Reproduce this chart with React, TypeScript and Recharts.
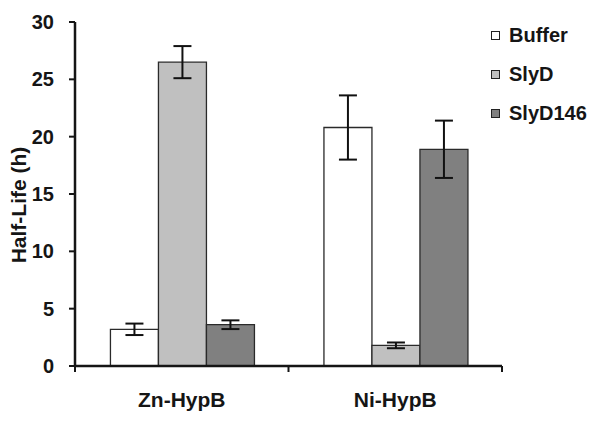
import { BarChart, Bar, XAxis, YAxis, ErrorBar, Legend } from "recharts";

const categories = ["Zn-HypB", "Ni-HypB"];
const bufferValues = [3.2, 20.8];
const bufferErrors = [0.5, 2.8];
const slydValues = [26.5, 1.8];
const slydErrors = [1.4, 0.25];
const slyd146Values = [3.6, 18.9];
const slyd146Errors = [0.38, 2.5];
const yTicks = [0, 5, 10, 15, 20, 25, 30];

const series = [
  { key: "buffer", name: "Buffer", fill: "#ffffff" },
  { key: "slyd", name: "SlyD", fill: "#c0c0c0" },
  { key: "slyd146", name: "SlyD146", fill: "#808080" },
];

const data = categories.map((cat, i) => ({
  cat,
  buffer: bufferValues[i],
  bufferErr: bufferErrors[i],
  slyd: slydValues[i],
  slydErr: slydErrors[i],
  slyd146: slyd146Values[i],
  slyd146Err: slyd146Errors[i],
}));

const W = 604;
const H = 425;
const MARGIN = { top: 22, right: 102, left: 15, bottom: 19 };
const Y_WIDTH = 60;
const FONT = "'Liberation Sans', Arial, sans-serif";
const INK = "#151515";

// half of one category band, for the boundary tick marks
const halfBand = (W - MARGIN.left - MARGIN.right - Y_WIDTH) / categories.length / 2;

function XTick(props: any) {
  const { x, y, payload, index } = props;
  const last = index === categories.length - 1;
  return (
    <g>
      <line x1={x - halfBand} x2={x - halfBand} y1={y} y2={y + 6} stroke={INK} strokeWidth={2} />
      {last && <line x1={x + halfBand} x2={x + halfBand} y1={y} y2={y + 6} stroke={INK} strokeWidth={2} />}
      <text x={x} y={y + 41} textAnchor="middle" fontFamily={FONT} fontWeight="bold" fontSize={21} fill={INK}>
        {payload.value}
      </text>
    </g>
  );
}

function YLabel(props: any) {
  const { viewBox } = props;
  const x = viewBox.x + 11;
  const y = 205;
  return (
    <text
      x={x}
      y={y}
      transform={`rotate(-90 ${x} ${y})`}
      textAnchor="middle"
      fontFamily={FONT}
      fontWeight="bold"
      fontSize={21}
      fill={INK}
    >
      Half-Life (h)
    </text>
  );
}

function LegendBox() {
  return (
    <div style={{ fontFamily: FONT, fontWeight: "bold", fontSize: 20, color: INK }}>
      {series.map((s) => (
        <div key={s.key} style={{ display: "flex", alignItems: "center", height: 39 }}>
          <span
            style={{
              display: "inline-block",
              width: 7,
              height: 7,
              border: "1.5px solid #222",
              background: s.fill,
              marginRight: 9,
            }}
          />
          {s.name}
        </div>
      ))}
    </div>
  );
}

export default function App() {
  return (
    <div style={{ width: W, height: H, background: "#fff" }}>
      <style>{`body{margin:0}`}</style>
      <BarChart width={W} height={H} data={data} margin={MARGIN} barGap={0} barCategoryGap="16.6%">
        <XAxis
          dataKey="cat"
          axisLine={{ stroke: INK, strokeWidth: 2.5 }}
          tickLine={false}
          tickSize={0}
          tickMargin={0}
          height={40}
          tick={<XTick />}
        />
        <YAxis
          domain={[0, 30]}
          ticks={yTicks}
          width={Y_WIDTH}
          axisLine={{ stroke: INK, strokeWidth: 2.5 }}
          tickLine={{ stroke: INK, strokeWidth: 2 }}
          tickSize={6}
          tickMargin={15}
          tick={{ fontFamily: FONT, fontWeight: "bold", fontSize: 20, fill: INK }}
          label={{ content: YLabel }}
        />
        <Legend
          layout="vertical"
          align="center"
          verticalAlign="middle"
          content={<LegendBox />}
          wrapperStyle={{ position: "absolute", left: 491, top: 16, width: 110 }}
        />
        {series.map((s) => (
          <Bar
            key={s.key}
            dataKey={s.key}
            name={s.name}
            fill={s.fill}
            stroke="#2a2a2a"
            strokeWidth={1.3}
            isAnimationActive={false}
          >
            <ErrorBar dataKey={`${s.key}Err`} width={9} stroke="#111" strokeWidth={2} />
          </Bar>
        ))}
      </BarChart>
    </div>
  );
}
